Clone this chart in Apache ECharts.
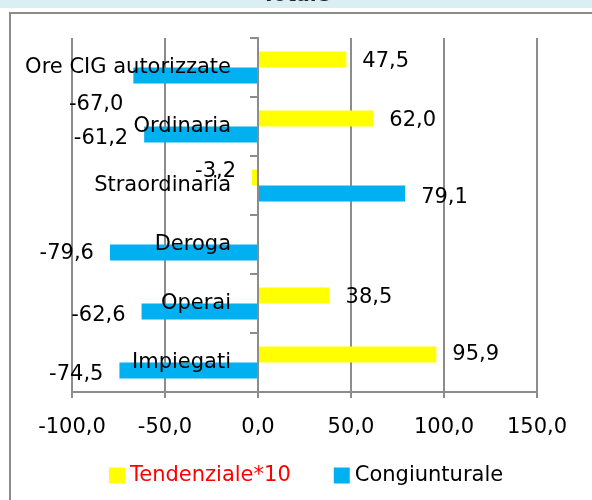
<!DOCTYPE html>
<html>
<head>
<meta charset="utf-8">
<script src="https://cdn.jsdelivr.net/npm/echarts@6/dist/echarts.min.js"></script>
<style>
  html, body { margin: 0; padding: 0; background: #fff; }
  #chart { width: 592px; height: 500px; }
</style>
</head>
<body>
<div id="chart"></div>
<script>
// categorie dall'alto verso il basso
const categories = ['Ore CIG autorizzate', 'Ordinaria', 'Straordinaria', 'Deroga', 'Operai', 'Impiegati'];
// variazioni tendenziali (x10) e congiunturali
const tendenziale = [47.5, 62.0, -3.2, null, 38.5, 95.9];
const congiunturale = [-67.0, -61.2, 79.1, -79.6, -62.6, -74.5];
const xMin = -100, xMax = 150, xStep = 50;

// piccoli spostamenti delle etichette come nell'originale
const tendNudge = [[0, 2], [0, 2], [0, -6], [0, 0], [0, 2], [0, 0]];
const congNudge = [[6, 29], [0, 4], [0, 4], [0, 1], [0, 4], [0, 4]];

const FONT = 'DejaVu Sans';
const GRAY = '#8c8c8c';
const GRID_LEFT = 72, GRID_RIGHT = 55;

function fmt(v) {
  return v.toFixed(1).replace('.', ',');
}

function buildData(values, nudge) {
  return values.map(function (v, i) {
    if (v === null) return null;
    return {
      value: v,
      label: {
        position: v < 0 ? 'left' : 'right',
        offset: nudge[i]
      }
    };
  });
}

// l'asse delle categorie sta sullo zero: spostamento dal bordo sinistro della griglia
const plotW = 592 - GRID_LEFT - GRID_RIGHT;
const zeroShift = plotW * (0 - xMin) / (xMax - xMin);

const myChart = echarts.init(document.getElementById('chart'));
myChart.setOption({
  animation: false,
  textStyle: { fontFamily: FONT },
  graphic: [
    { type: 'rect', shape: { x: 0, y: 0, width: 592, height: 8 }, style: { fill: '#dbeef4' }, silent: true },
    {
      type: 'text', left: 'center', top: -14,
      style: { text: 'Totale', font: 'bold 20px "DejaVu Sans"', fill: '#222' }, silent: true
    },
    {
      type: 'rect', shape: { x: 10, y: 13, width: 620, height: 520 },
      style: { fill: 'none', stroke: GRAY, lineWidth: 2 }, silent: true
    }
  ],
  grid: { left: GRID_LEFT, right: GRID_RIGHT, top: 38, bottom: 108, containLabel: false, outerBoundsMode: 'none' },
  legend: {
    left: 109, top: 465, padding: 0,
    itemWidth: 16, itemHeight: 16, itemGap: 43,
    icon: 'rect',
    textStyle: { fontFamily: FONT, fontSize: 21, color: '#000' },
    data: [
      { name: 'Tendenziale*10', textStyle: { color: '#ff0000' } },
      { name: 'Congiunturale' }
    ]
  },
  xAxis: {
    type: 'value',
    min: xMin, max: xMax, interval: xStep,
    axisLine: { show: true, lineStyle: { color: GRAY, width: 2 } },
    axisTick: { show: true, length: 6, lineStyle: { color: GRAY, width: 2 } },
    splitLine: { show: true, lineStyle: { color: GRAY, width: 2 } },
    axisLabel: { fontFamily: FONT, fontSize: 21, color: '#000', margin: 25, formatter: fmt }
  },
  yAxis: {
    type: 'category',
    inverse: true,
    data: categories,
    offset: -zeroShift,
    z: 5,
    axisLine: { show: true, onZero: false, lineStyle: { color: GRAY, width: 2 } },
    axisTick: { show: true, length: 8, lineStyle: { color: GRAY, width: 2 } },
    splitLine: { show: false },
    axisLabel: { fontFamily: FONT, fontSize: 21, color: '#000', margin: 27 }
  },
  series: [
    {
      name: 'Tendenziale*10',
      type: 'bar',
      barWidth: 16,
      barGap: '0%',
      itemStyle: { color: '#ffff00' },
      label: { show: true, distance: 16, fontFamily: FONT, fontSize: 21, color: '#000', formatter: function (p) { return fmt(p.value); } },
      data: buildData(tendenziale, tendNudge)
    },
    {
      name: 'Congiunturale',
      type: 'bar',
      barWidth: 16,
      barGap: '0%',
      itemStyle: { color: '#00b0f0' },
      label: { show: true, distance: 16, fontFamily: FONT, fontSize: 21, color: '#000', formatter: function (p) { return fmt(p.value); } },
      data: buildData(congiunturale, congNudge)
    }
  ]
});
</script>
</body>
</html>
